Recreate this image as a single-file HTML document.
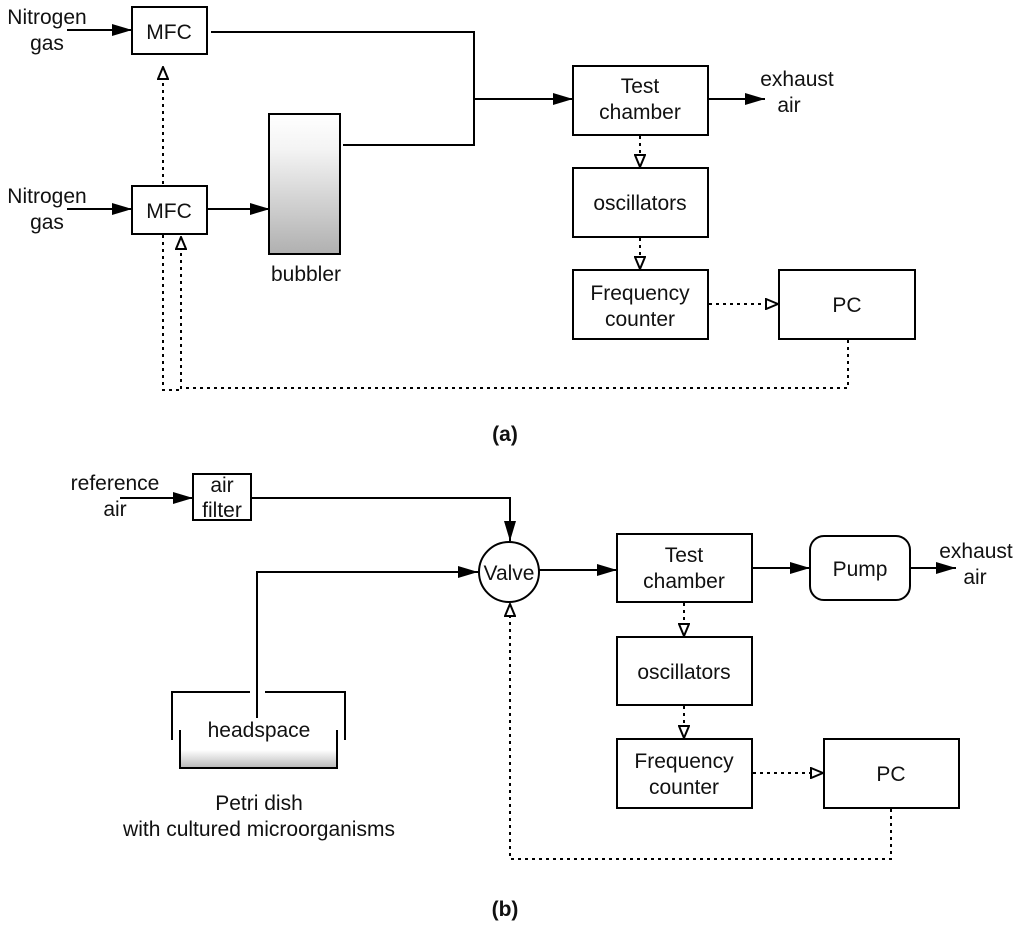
<!DOCTYPE html>
<html><head><meta charset="utf-8"><style>
html,body{margin:0;padding:0;background:#fff;}
svg{display:block;font-family:"Liberation Sans",Arial,sans-serif;}
</style></head><body>
<svg width="1024" height="925" viewBox="0 0 1024 925" xmlns="http://www.w3.org/2000/svg">
<defs>
<marker id="f" viewBox="0 0 20 12" markerWidth="20" markerHeight="12" refX="20" refY="6" orient="auto" markerUnits="userSpaceOnUse"><path d="M0,0 L20,6 L0,12 z" fill="#000"/></marker>
<marker id="o" viewBox="0 0 14 12" markerWidth="14" markerHeight="12" refX="13" refY="6" orient="auto" markerUnits="userSpaceOnUse"><path d="M1,1 L13,6 L1,11 z" fill="#fff" stroke="#000" stroke-width="2"/></marker>
<linearGradient id="g" x1="0" y1="0" x2="0" y2="1"><stop offset="0" stop-color="#fff"/><stop offset="0.25" stop-color="#f4f4f4"/><stop offset="1" stop-color="#b0b0b0"/></linearGradient>
<linearGradient id="g2" x1="0" y1="0" x2="0" y2="1"><stop offset="0" stop-color="#fff"/><stop offset="0.4" stop-color="#fff"/><stop offset="1" stop-color="#b8b8b8"/></linearGradient>
</defs>
<g fill="none" stroke="#000" stroke-width="2">
<rect x="132" y="7" width="75" height="47"/>
<rect x="132" y="186" width="75" height="48"/>
<rect x="269" y="114" width="71" height="140" fill="url(#g)"/>
<rect x="573" y="66" width="135" height="69"/>
<rect x="573" y="168" width="135" height="69"/>
<rect x="573" y="270" width="135" height="69"/>
<rect x="779" y="270" width="136" height="69"/>
<line x1="67" y1="30" x2="132" y2="30" marker-end="url(#f)"/>
<line x1="67" y1="209" x2="132" y2="209" marker-end="url(#f)"/>
<line x1="207" y1="209" x2="270" y2="209" marker-end="url(#f)"/>
<path d="M211,32 H474 V99"/>
<path d="M343,145 H474 V99"/>
<line x1="474" y1="99" x2="573" y2="99" marker-end="url(#f)"/>
<line x1="708" y1="99" x2="765" y2="99" marker-end="url(#f)"/>
<g stroke-dasharray="3,4">
<line x1="163" y1="184" x2="163" y2="67" marker-end="url(#o)"/>
<line x1="640" y1="136" x2="640" y2="167" marker-end="url(#o)"/>
<line x1="640" y1="238" x2="640" y2="269" marker-end="url(#o)"/>
<line x1="709" y1="304" x2="778" y2="304" marker-end="url(#o)"/>
<path d="M848,340 V388 H181 V237" marker-end="url(#o)"/>
<path d="M163,235 V390 H181"/>
</g>
<rect x="193" y="474" width="58" height="46"/>
<circle cx="509" cy="572" r="30"/>
<rect x="617" y="534" width="135" height="68"/>
<rect x="810" y="536" width="100" height="64" rx="14"/>
<rect x="617" y="637" width="135" height="68"/>
<rect x="617" y="739" width="135" height="69"/>
<rect x="824" y="739" width="135" height="69"/>
<line x1="120" y1="498" x2="193" y2="498" marker-end="url(#f)"/>
<path d="M251,498 H510 V541" marker-end="url(#f)"/>
<path d="M257,718 V572 H478" marker-end="url(#f)"/>
<line x1="539" y1="570" x2="617" y2="570" marker-end="url(#f)"/>
<line x1="752" y1="568" x2="810" y2="568" marker-end="url(#f)"/>
<line x1="910" y1="568" x2="956" y2="568" marker-end="url(#f)"/>
<rect x="180" y="738" width="157" height="30" fill="url(#g2)" stroke="none"/>
<path d="M172,740 V692 H250 M265,692 H345 V740"/>
<path d="M180,730 V768 H337 V730"/>
<g stroke-dasharray="3,4">
<line x1="684" y1="603" x2="684" y2="636" marker-end="url(#o)"/>
<line x1="684" y1="706" x2="684" y2="738" marker-end="url(#o)"/>
<line x1="753" y1="773" x2="823" y2="773" marker-end="url(#o)"/>
<path d="M891,809 V859 H510 V604" marker-end="url(#o)"/>
</g>
</g>
<g font-size="21" fill="#111" text-anchor="middle">
<text x="47" y="24">Nitrogen</text><text x="47" y="50">gas</text>
<text x="47" y="203">Nitrogen</text><text x="47" y="229">gas</text>
<text x="169" y="39">MFC</text>
<text x="169" y="218">MFC</text>
<text x="306" y="281">bubbler</text>
<text x="640" y="93">Test</text><text x="640" y="119">chamber</text>
<text x="797" y="86">exhaust</text><text x="789" y="112">air</text>
<text x="640" y="210">oscillators</text>
<text x="640" y="300">Frequency</text><text x="640" y="326">counter</text>
<text x="847" y="312">PC</text>
<text x="505" y="441" font-weight="bold" font-size="21">(a)</text>
<text x="115" y="490">reference</text><text x="115" y="516">air</text>
<text x="222" y="492">air</text><text x="222" y="517">filter</text>
<text x="509" y="580">Valve</text>
<text x="684" y="562">Test</text><text x="684" y="588">chamber</text>
<text x="860" y="576">Pump</text>
<text x="976" y="558">exhaust</text><text x="975" y="584">air</text>
<text x="684" y="679">oscillators</text>
<text x="684" y="768">Frequency</text><text x="684" y="794">counter</text>
<text x="891" y="781">PC</text>
<text x="259" y="737">headspace</text>
<text x="259" y="810">Petri dish</text>
<text x="259" y="836">with cultured microorganisms</text>
<text x="505" y="916" font-weight="bold" font-size="21">(b)</text>
</g>
</svg>
</body></html>
